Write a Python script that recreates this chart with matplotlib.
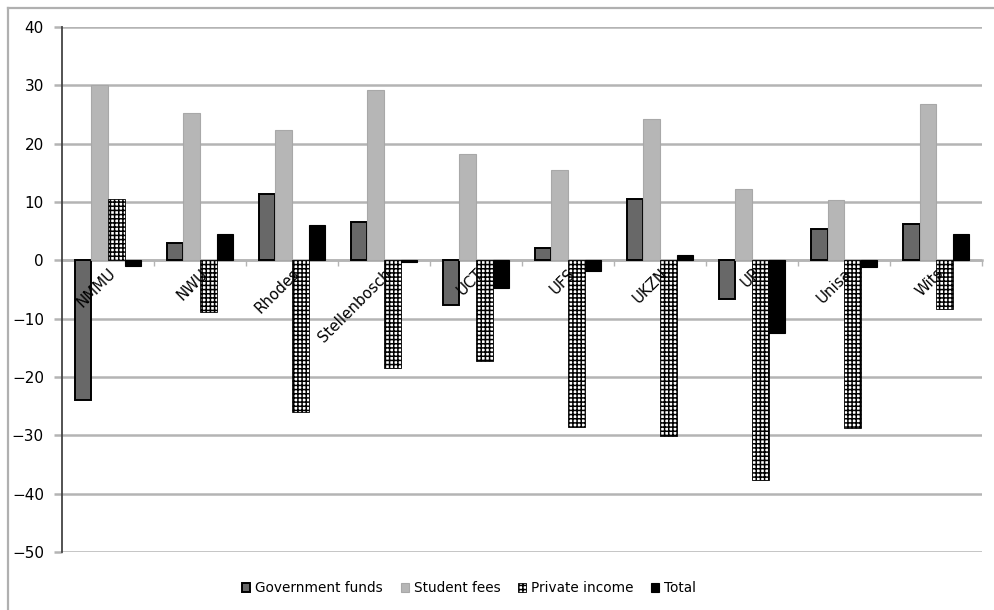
import matplotlib
matplotlib.use("Agg")
import matplotlib.pyplot as plt
import numpy as np
from matplotlib.lines import Line2D

universities = ['NMMU', 'NWU', 'Rhodes', 'Stellenbosch', 'UCT', 'UFS', 'UKZN', 'UP', 'Unisa', 'Wits']
government_funds = [-24.0, 3.0, 11.3, 6.5, -7.6, 2.2, 10.5, -6.7, 5.3, 6.3]
student_fees = [30.0, 25.2, 22.3, 29.2, 18.3, 15.5, 24.2, 12.2, 10.4, 26.8]
private_income = [10.6, -8.8, -26.0, -18.5, -17.2, -28.5, -30.2, -37.6, -28.7, -8.3]
total = [-0.9, 4.5, 6.1, -0.3, -4.8, -1.8, 0.9, -12.4, -1.1, 4.5]

plt.rcParams['hatch.linewidth'] = 1.1
plt.rcParams['font.family'] = 'DejaVu Sans'

fig = plt.figure(figsize=(9.94, 6.10), dpi=100)
ax = fig.add_axes([0.0624, 0.0951, 0.9256, 0.8606])

x = np.arange(len(universities))
w = 0.18
offs = [-1.5 * w, -0.5 * w, 0.5 * w, 1.5 * w]

ax.bar(x + offs[0], government_funds, w, color='#686868', edgecolor='black',
       linewidth=1.4, label='Government funds', zorder=3)
ax.bar(x + offs[1], student_fees, w, color='#b6b6b6', edgecolor='#a8a8a8',
       linewidth=0.8, label='Student fees', zorder=3)
ax.bar(x + offs[2], private_income, w, color='white', edgecolor='black',
       hatch='++++', linewidth=0.6, label='Private income', zorder=3)
ax.bar(x + offs[3], total, w, color='black', edgecolor='black',
       linewidth=0.8, label='Total', zorder=3)

ax.set_xlim(-0.5, len(universities) - 0.5)
ax.set_ylim(-50, 40)
ax.set_yticks(range(-50, 41, 10))
ax.yaxis.grid(True, color='#b4b4b4', linewidth=1.8, zorder=0)
ax.set_axisbelow(True)
ax.tick_params(axis='y', length=6, width=1.8, color='#b4b4b4', direction='out',
               labelsize=11, pad=7)

for s in ['top', 'right']:
    ax.spines[s].set_visible(False)
ax.spines['left'].set_color('#444444')
ax.spines['left'].set_linewidth(1.3)
ax.spines['left'].set_zorder(4)
ax.spines['bottom'].set_position(('data', 0))
ax.spines['bottom'].set_color('#b4b4b4')
ax.spines['bottom'].set_linewidth(1.8)

ax.set_xticks(x)
ax.set_xticklabels(universities, rotation=45, ha='right', va='top',
                   rotation_mode='anchor', fontsize=10.8)
ax.tick_params(axis='x', which='major', length=0, pad=4)
ax.set_xticks(np.arange(0.5, len(universities), 1), minor=True)
ax.tick_params(axis='x', which='minor', length=4, width=1, color='#b4b4b4', direction='out')
ax.xaxis.set_zorder(5)

fig.legend(loc='center', bbox_to_anchor=(0.472, 0.036), ncol=4, frameon=False,
           fontsize=9.8, handlelength=0.6, handleheight=0.6, handletextpad=0.35,
           columnspacing=1.3)

# outer chart frame (left and top edges visible in the reference)
fig.lines.append(Line2D([0.008, 0.008], [0.0, 0.987], transform=fig.transFigure,
                        color='#b0b0b0', linewidth=1.6))
fig.lines.append(Line2D([0.008, 1.0], [0.987, 0.987], transform=fig.transFigure,
                        color='#b0b0b0', linewidth=1.6))

fig.savefig('out.png', dpi=100, facecolor='white')
